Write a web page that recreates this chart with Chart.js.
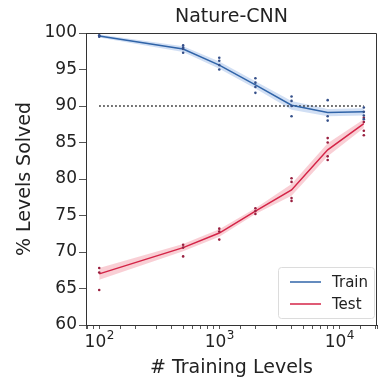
<!DOCTYPE html>
<html>
<head>
<meta charset="utf-8">
<script src="https://cdn.jsdelivr.net/npm/chart.js@4"></script>
<style>
  html, body { margin: 0; padding: 0; background: #fff; }
  #wrap { width: 382px; height: 381px; }
</style>
</head>
<body>
<div id="wrap"><canvas id="chart" width="382" height="381"></canvas></div>
<script>
// training-set sizes (number of levels)
const levels = [100, 500, 1000, 2000, 4000, 8000, 16000];

// mean % levels solved
const trainMean = [99.6, 97.8, 95.6, 92.9, 90.1, 89.1, 89.2];
const testMean  = [67.0, 70.6, 72.6, 75.6, 78.5, 84.0, 87.6];

// half-width of the shaded band around each mean
const trainSpread = [0.2, 0.4, 0.5, 0.5, 0.6, 0.5, 0.5];
const testSpread  = [0.8, 0.5, 0.5, 0.4, 0.8, 0.9, 0.6];

// individual runs at each training-set size
const trainRuns = [
  [99.5, 99.7, 99.6],
  [97.3, 97.8, 98.3, 98.0],
  [95.0, 95.6, 96.2, 96.6],
  [91.8, 92.6, 93.2, 93.8],
  [88.6, 90.0, 90.7, 91.3],
  [88.0, 88.6, 90.8],
  [88.2, 88.7, 89.2, 89.8]
];
const testRuns = [
  [64.8, 67.2, 67.8],
  [69.4, 70.6, 71.0],
  [71.7, 72.8, 73.2],
  [75.2, 75.6, 76.0],
  [77.0, 77.4, 79.6, 80.1],
  [82.6, 83.1, 85.0, 85.6],
  [86.0, 86.6, 87.8, 88.4]
];

const baseline = 90;
const yTicks = [60, 65, 70, 75, 80, 85, 90, 95, 100];
const xDecades = [2, 3, 4];

const BLUE = '#3064a8';
const RED = '#d42447';
const FONT = "'DejaVu Sans', sans-serif";

const pts = (ys) => ys.map((y, i) => ({x: levels[i], y}));
const runPts = (runs) => runs.flatMap((rs, i) => rs.map(y => ({x: levels[i], y})));
const shift = (ys, d, s) => ys.map((y, i) => y + s * d[i]);

// frame on the top/right, title, 10^n tick labels and legend box
const decorations = {
  id: 'decorations',
  afterDraw(chart) {
    const {ctx, chartArea: a} = chart;
    const xs = chart.scales.x;
    ctx.save();
    ctx.strokeStyle = '#333';
    ctx.lineWidth = 1;
    ctx.beginPath();
    ctx.moveTo(a.left, a.top + 0.5);
    ctx.lineTo(a.right - 0.5, a.top + 0.5);
    ctx.lineTo(a.right - 0.5, a.bottom);
    ctx.stroke();

    ctx.fillStyle = '#222';
    ctx.font = '19px ' + FONT;
    ctx.textAlign = 'center';
    ctx.textBaseline = 'middle';
    ctx.fillText('Nature-CNN', (a.left + a.right) / 2, 17);

    // power-of-ten labels with a raised exponent
    ctx.textBaseline = 'alphabetic';
    xDecades.forEach(p => {
      const cx = xs.getPixelForValue(Math.pow(10, p));
      ctx.font = '17px ' + FONT;
      const wBase = ctx.measureText('10').width;
      ctx.font = '12px ' + FONT;
      const wExp = ctx.measureText(String(p)).width;
      const x0 = cx - (wBase + wExp) / 2;
      ctx.textAlign = 'left';
      ctx.font = '17px ' + FONT;
      ctx.fillText('10', x0, a.bottom + 22);
      ctx.font = '12px ' + FONT;
      ctx.fillText(String(p), x0 + wBase + 0.5, a.bottom + 14);
    });

    // legend
    const lx = a.right - 99, ly = a.bottom - 58, lw = 96, lh = 51;
    ctx.fillStyle = 'rgba(255,255,255,0.85)';
    ctx.strokeStyle = '#dcdcdc';
    ctx.beginPath();
    ctx.roundRect(lx + 0.5, ly + 0.5, lw, lh, 3);
    ctx.fill();
    ctx.stroke();
    const items = [['Train', BLUE], ['Test', RED]];
    ctx.font = '15px ' + FONT;
    ctx.textAlign = 'left';
    ctx.textBaseline = 'middle';
    items.forEach(([label, color], i) => {
      const y = ly + 15 + i * 22;
      ctx.strokeStyle = color;
      ctx.lineWidth = 1.5;
      ctx.beginPath();
      ctx.moveTo(lx + 12, y);
      ctx.lineTo(lx + 43, y);
      ctx.stroke();
      ctx.fillStyle = '#222';
      ctx.fillText(label, lx + 54, y + 1);
    });
    ctx.restore();
  }
};

new Chart(document.getElementById('chart'), {
  type: 'line',
  data: {
    datasets: [
      {
        label: 'Train',
        data: pts(trainMean),
        borderColor: BLUE,
        borderWidth: 1.5,
        pointRadius: 0,
        tension: 0,
        order: 2
      },
      {
        label: 'Test',
        data: pts(testMean),
        borderColor: RED,
        borderWidth: 1.5,
        pointRadius: 0,
        tension: 0,
        order: 2
      },
      {
        label: 'train-upper',
        data: pts(shift(trainMean, trainSpread, 1)),
        borderWidth: 0,
        pointRadius: 0,
        backgroundColor: 'rgba(90,140,215,0.28)',
        fill: '+1',
        order: 5
      },
      {
        label: 'train-lower',
        data: pts(shift(trainMean, trainSpread, -1)),
        borderWidth: 0,
        pointRadius: 0,
        fill: false,
        order: 5
      },
      {
        label: 'test-upper',
        data: pts(shift(testMean, testSpread, 1)),
        borderWidth: 0,
        pointRadius: 0,
        backgroundColor: 'rgba(235,95,115,0.3)',
        fill: '+1',
        order: 5
      },
      {
        label: 'test-lower',
        data: pts(shift(testMean, testSpread, -1)),
        borderWidth: 0,
        pointRadius: 0,
        fill: false,
        order: 5
      },
      {
        label: 'baseline',
        data: [{x: levels[0], y: baseline}, {x: levels[levels.length - 1], y: baseline}],
        borderColor: '#111',
        borderWidth: 1.5,
        borderDash: [1.5, 2.5],
        pointRadius: 0,
        order: 3
      },
      {
        label: 'train-runs',
        type: 'scatter',
        data: runPts(trainRuns),
        pointRadius: 1.3,
        pointBackgroundColor: '#35508a',
        pointBorderWidth: 0,
        showLine: false,
        order: 1
      },
      {
        label: 'test-runs',
        type: 'scatter',
        data: runPts(testRuns),
        pointRadius: 1.3,
        pointBackgroundColor: '#9a2040',
        pointBorderWidth: 0,
        showLine: false,
        order: 1
      }
    ]
  },
  options: {
    responsive: false,
    animation: false,
    layout: { padding: { top: 33, right: 5, left: 0, bottom: 0 } },
    plugins: {
      legend: { display: false },
      tooltip: { enabled: false },
      title: { display: false }
    },
    scales: {
      x: {
        type: 'logarithmic',
        min: 77.6,
        max: 20600,
        afterFit: (s) => { s.height = 56; },
        border: { display: true, color: '#333', width: 1 },
        grid: {
          drawOnChartArea: false,
          drawTicks: true,
          tickLength: 4,
          tickColor: '#555'
        },
        ticks: {
          autoSkip: false,
          maxRotation: 0,
          callback: () => ''
        },
        title: {
          display: true,
          text: '# Training Levels',
          color: '#222',
          font: { family: FONT, size: 19 },
          padding: { top: 0, bottom: 2 }
        }
      },
      y: {
        min: 60,
        max: 100,
        afterFit: (s) => { s.width = 86; },
        afterBuildTicks: (s) => { s.ticks = yTicks.map(v => ({value: v})); },
        border: { display: true, color: '#333', width: 1 },
        grid: {
          drawOnChartArea: false,
          drawTicks: true,
          tickLength: 7,
          tickColor: '#555'
        },
        ticks: {
          padding: 2,
          color: '#222',
          font: { family: FONT, size: 17 }
        },
        title: {
          display: true,
          text: '% Levels Solved',
          color: '#222',
          font: { family: FONT, size: 19 },
          padding: { top: 14, bottom: 4 }
        }
      }
    }
  },
  plugins: [decorations]
});
</script>
</body>
</html>
